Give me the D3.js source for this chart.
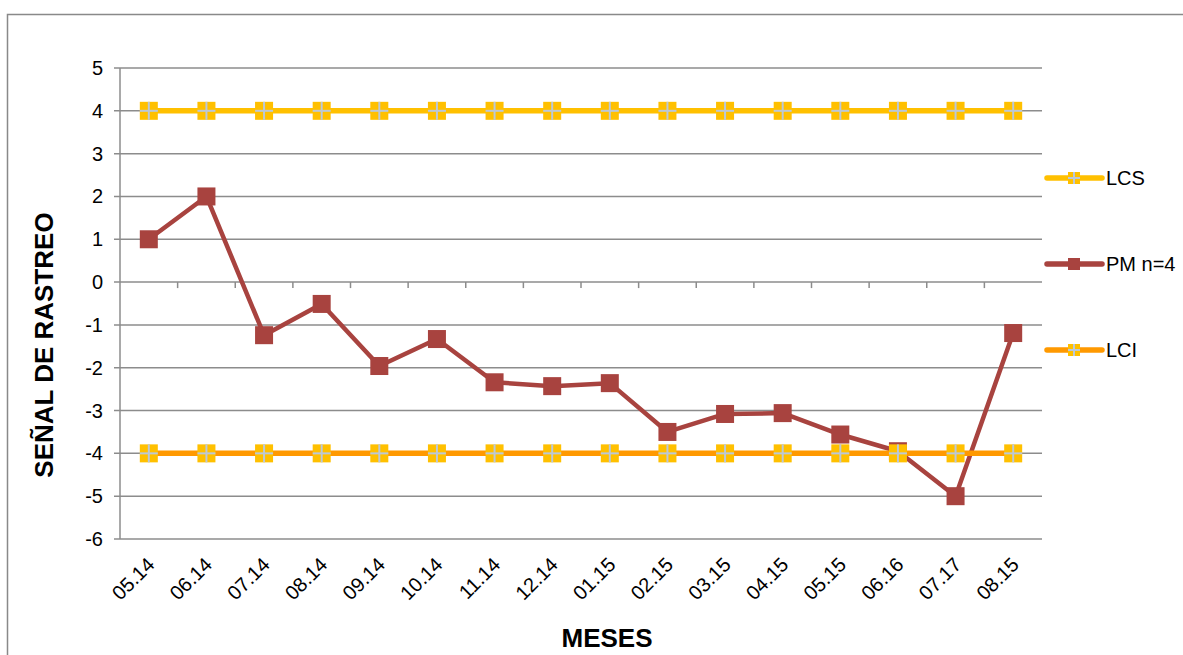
<!DOCTYPE html>
<html>
<head>
<meta charset="utf-8">
<script src="https://cdn.jsdelivr.net/npm/d3@7"></script>
<style>
  html, body { margin: 0; padding: 0; background: #fff; }
  svg { display: block; font-family: Arial, "Liberation Sans", sans-serif; }
</style>
</head>
<body>
<svg id="chart" width="1183" height="655"></svg>
<script>
// Tracking signal by month
const months = ["05.14","06.14","07.14","08.14","09.14","10.14","11.14","12.14",
                "01.15","02.15","03.15","04.15","05.15","06.16","07.17","08.15"];
const lcs = [4,4,4,4,4,4,4,4,4,4,4,4,4,4,4,4];
const pm = [1.0, 2.0, -1.24, -0.51, -1.96, -1.33, -2.34, -2.43,
            -2.36, -3.5, -3.08, -3.06, -3.56, -3.95, -5.0, -1.19];
const lci = [-4,-4,-4,-4,-4,-4,-4,-4,-4,-4,-4,-4,-4,-4,-4,-4];
const yTicks = [5,4,3,2,1,0,-1,-2,-3,-4,-5,-6];

const svg = d3.select("#chart");
const plot = { left: 120, right: 1042, top: 68, bottom: 539 };

// outer chart frame
svg.append("rect")
  .attr("x", 7.5).attr("y", 14.5).attr("width", 1190).attr("height", 660)
  .attr("fill", "none").attr("stroke", "#898989").attr("stroke-width", 1.5);

const x = d3.scaleBand().domain(months).range([plot.left, plot.right]);
const y = d3.scaleLinear().domain([-6, 5]).range([plot.bottom, plot.top]);
const cx = d => x(d) + x.bandwidth() / 2;

// horizontal gridlines
svg.append("g").selectAll("line").data(yTicks).join("line")
  .attr("x1", plot.left - 6).attr("x2", plot.right)
  .attr("y1", d => y(d)).attr("y2", d => y(d))
  .attr("stroke", "#8c8c8c").attr("stroke-width", 1.5);

// value axis line
svg.append("line")
  .attr("x1", plot.left).attr("x2", plot.left)
  .attr("y1", plot.top).attr("y2", plot.bottom)
  .attr("stroke", "#8c8c8c").attr("stroke-width", 1.5);

// category tick marks on the zero line
svg.append("g").selectAll("line").data(months.slice(1)).join("line")
  .attr("x1", d => x(d)).attr("x2", d => x(d))
  .attr("y1", y(0)).attr("y2", y(0) + 6)
  .attr("stroke", "#8c8c8c").attr("stroke-width", 1.5);

// y tick labels
svg.append("g").selectAll("text").data(yTicks).join("text")
  .attr("x", 103).attr("y", d => y(d))
  .attr("dy", "0.35em").attr("text-anchor", "end")
  .attr("font-size", 20).attr("fill", "#000")
  .text(d => d);

// x tick labels (rotated)
svg.append("g").selectAll("text").data(months).join("text")
  .attr("transform", d => `translate(${cx(d) + 2},${plot.bottom + 22}) rotate(-45)`)
  .attr("text-anchor", "end").attr("dy", "0.35em")
  .attr("font-size", 20).attr("fill", "#000")
  .text(d => d);

// axis titles
svg.append("text")
  .attr("transform", `translate(53,345) rotate(-90)`)
  .attr("text-anchor", "middle").attr("font-size", 26).attr("font-weight", "bold")
  .text("SEÑAL DE RASTREO");
svg.append("text")
  .attr("x", 607).attr("y", 647)
  .attr("text-anchor", "middle").attr("font-size", 26).attr("font-weight", "bold")
  .text("MESES");

const line = d3.line().x((d, i) => cx(months[i])).y(d => y(d));

// cross-marker helper
function crossMarkers(g, data, fill) {
  const s = 18;
  const m = g.append("g").selectAll("g").data(data).join("g")
    .attr("transform", (d, i) => `translate(${cx(months[i])},${y(d)})`);
  m.append("rect").attr("x", -s / 2).attr("y", -s / 2).attr("width", s).attr("height", s)
    .attr("fill", fill);
  m.append("line").attr("x1", -s / 2).attr("x2", s / 2).attr("y1", 0).attr("y2", 0)
    .attr("stroke", "#bcc8d8").attr("stroke-width", 2);
  m.append("line").attr("y1", -s / 2).attr("y2", s / 2).attr("x1", 0).attr("x2", 0)
    .attr("stroke", "#bcc8d8").attr("stroke-width", 2);
}

// PM n=4
const gPM = svg.append("g");
gPM.append("path").datum(pm).attr("d", line)
  .attr("fill", "none").attr("stroke", "#a8433f").attr("stroke-width", 4.5)
  .attr("stroke-linejoin", "round");
gPM.selectAll("rect").data(pm).join("rect")
  .attr("x", (d, i) => cx(months[i]) - 9).attr("y", d => y(d) - 9)
  .attr("width", 18).attr("height", 18).attr("fill", "#a8433f");

// LCS
const gLCS = svg.append("g");
gLCS.append("path").datum(lcs).attr("d", line)
  .attr("fill", "none").attr("stroke", "#ffc000").attr("stroke-width", 5.5);
crossMarkers(gLCS, lcs, "#ffc000");

// LCI
const gLCI = svg.append("g");
gLCI.append("path").datum(lci).attr("d", line)
  .attr("fill", "none").attr("stroke", "#ff9900").attr("stroke-width", 5.5);
crossMarkers(gLCI, lci, "#ffc000");

// legend
const legend = [
  { name: "LCS", color: "#ffc000", mark: "#ffc000", cross: true, yy: 178 },
  { name: "PM n=4", color: "#a8433f", mark: "#a8433f", cross: false, yy: 264 },
  { name: "LCI", color: "#ff9900", mark: "#ffc000", cross: true, yy: 350 }
];
const lg = svg.append("g").selectAll("g").data(legend).join("g")
  .attr("transform", d => `translate(1047,${d.yy})`);
lg.append("line").attr("x1", 0).attr("x2", 55).attr("y1", 0).attr("y2", 0)
  .attr("stroke", d => d.color).attr("stroke-width", 5.5).attr("stroke-linecap", "round");
lg.append("rect").attr("x", 21).attr("y", -6).attr("width", 12).attr("height", 12)
  .attr("fill", d => d.mark);
lg.filter(d => d.cross).append("path")
  .attr("d", "M21,0H33M27,-6V6").attr("stroke", "#bcc8d8").attr("stroke-width", 2);
lg.append("text").attr("x", 59).attr("y", 0).attr("dy", "0.35em")
  .attr("font-size", 20).text(d => d.name);
</script>
</body>
</html>
